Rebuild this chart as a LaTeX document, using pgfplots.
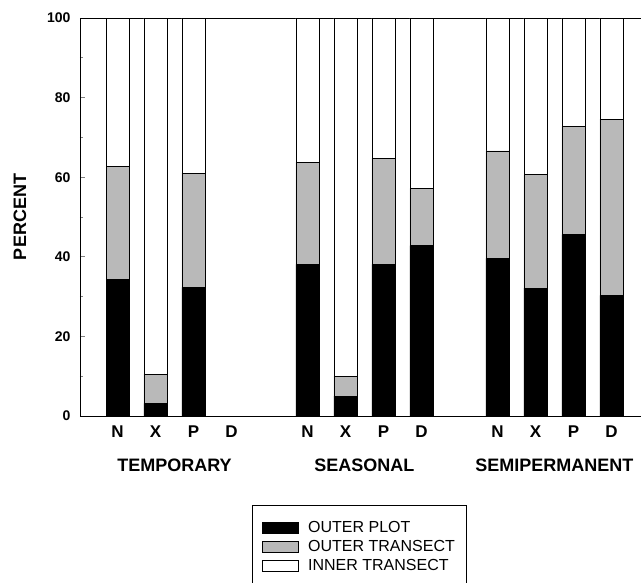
\documentclass[border=0pt]{standalone}
\usepackage{pgfplots}
\pgfplotsset{compat=1.18}
\usepackage{fontspec}
\setmainfont{Liberation Sans}

% columns: position, outer plot, outer transect, inner transect
\pgfplotstableread{
x  op    ot    it
0  34.3  28.5  37.2
1  3.2   7.3   89.5
2  32.3  28.7  39.0
5  38.1  25.7  36.2
6  5.0   5.0   90.0
7  38.1  26.7  35.2
8  42.8  14.4  42.8
10 39.6  27.0  33.4
11 32.1  28.5  39.4
12 45.6  27.2  27.2
13 30.3  44.3  25.4
}\wetland

\begin{document}
\begin{tikzpicture}
\begin{axis}[
    scale only axis,
    width=563pt, height=398pt,
    xmin=-0.987, xmax=13.83,
    ymin=0, ymax=100,
    clip=false,
    ybar stacked,
    bar width=23pt,
    axis line style={line width=0.8pt},
    ytick={0,20,40,60,80,100},
    ytick pos=left,
    minor y tick num=1,
    tick align=inside,
    major tick length=5pt,
    minor tick length=3pt,
    ytick style={line width=0.7pt},
    xtick={0,1,2,3,5,6,7,8,10,11,12,13},
    xticklabels={N,X,P,D,N,X,P,D,N,X,P,D},
    xtick style={draw=none},
    /pgf/number format/assume math mode=true,
    yticklabel style={font=\fontsize{14}{16}\selectfont\bfseries, xshift=-6pt},
    xticklabel style={font=\fontsize{17}{19}\selectfont\bfseries, yshift=-6.3pt},
    ylabel={PERCENT},
    ylabel style={font=\fontsize{18}{20}\selectfont\bfseries,
        at={(axis description cs:-0.1066,0.5)}, anchor=center, rotate=0},
    legend style={at={(axis description cs:0.3055,-0.2236)}, anchor=north west,
        font=\fontsize{16}{18}\selectfont, draw=black, line width=0.8pt,
        inner xsep=10pt, inner ysep=14pt, row sep=2.5pt, column sep=7pt},
    legend cell align=left,
    legend image code/.code={\draw[#1, line width=0.8pt] (0pt,-5.5pt) rectangle (36pt,5.5pt);},
]
\addplot[fill=black, draw=black, line width=0.8pt] table[x=x, y=op] {\wetland};
\addplot[fill=gray!55, draw=black, line width=0.8pt] table[x=x, y=ot] {\wetland};
\addplot[fill=white, draw=black, line width=0.8pt] table[x=x, y=it] {\wetland};
\addlegendentry{OUTER PLOT}
\addlegendentry{OUTER TRANSECT}
\addlegendentry{INNER TRANSECT}
\addlegendimage{empty legend}
\addlegendentry{\strut}
\coordinate (o) at (rel axis cs:0,0);
\node[anchor=base, font=\fontsize{18}{20}\selectfont\bfseries] at (axis cs:1.5,0) [yshift=-55.7pt] {TEMPORARY};
\node[anchor=base, font=\fontsize{18}{20}\selectfont\bfseries] at (axis cs:6.5,0) [yshift=-55.7pt] {SEASONAL};
\node[anchor=base, font=\fontsize{18}{20}\selectfont\bfseries] at (axis cs:11.5,0) [yshift=-55.7pt] {SEMIPERMANENT};
\end{axis}
\pgfresetboundingbox
\path[use as bounding box] ([shift={(-80pt,-167pt)}]o) rectangle ([shift={(561pt,416pt)}]o);
\end{tikzpicture}
\end{document}
